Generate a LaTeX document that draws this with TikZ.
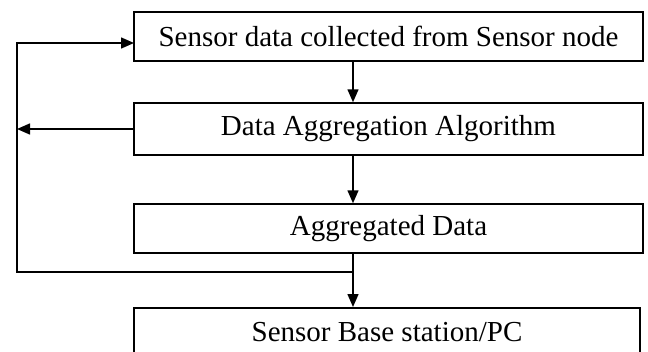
\documentclass[tikz,border=0pt]{standalone}
\usepackage{fontspec}
\setmainfont{Liberation Serif}
\usetikzlibrary{arrows.meta}
\begin{document}
\begin{tikzpicture}[x=1pt,y=-1pt,
  box/.style={draw=black,line width=1.5pt,minimum width=509pt,inner sep=0pt,
    font=\fontsize{29}{34}\selectfont,text=black},
  conn/.style={line width=1.5pt,draw=black},
  arr/.style={conn,-{Triangle[length=13pt,width=11pt]}}]
\useasboundingbox (0,0) rectangle (648,351);
\node[box,minimum height=49pt] (b1) at (388.5,36.5) {Sensor data collected from Sensor node};
\node[box,minimum height=52pt] (b2) at (388.5,129) {Data Aggregation Algorithm};
\node[box,minimum height=49pt] (b3) at (388.5,228.5) {Aggregated Data};
\node[box,minimum height=49pt,minimum width=506pt,anchor=north] (b4) at (387,307) {Sensor Base station/PC};
\coordinate (V) at (353,0);
\coordinate (L) at (17,0);
\coordinate (J) at (353,272);
\coordinate (E1) at (134,43);
\draw[arr] (b1.south -| V) -- (b2.north -| V);
\draw[arr] (b2.south -| V) -- (b3.north -| V);
\draw[arr] (b3.south -| V) -- (b4.north -| V);
\draw[arr] (b2.west) -- (b2.west -| L);
\draw[arr] (J) -- (J -| L) -- (E1 -| L) -- (E1);
\end{tikzpicture}
\end{document}
